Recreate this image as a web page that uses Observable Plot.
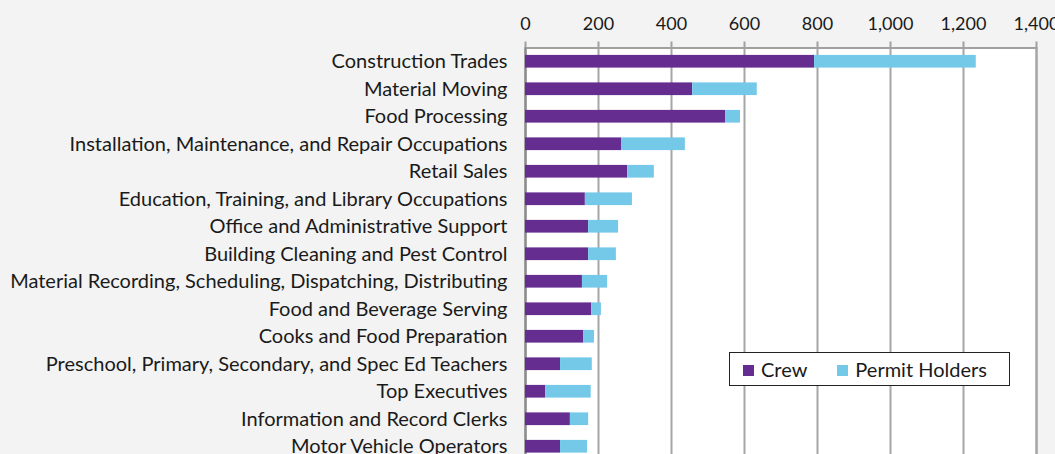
<!DOCTYPE html>
<html>
<head>
<meta charset="utf-8">
<script src="https://cdn.jsdelivr.net/npm/d3@7"></script>
<script src="https://cdn.jsdelivr.net/npm/@observablehq/plot@0.6"></script>
<style>
  html, body { margin: 0; padding: 0; overflow: hidden; background: #f2f3f2; }
  #wrap { position: relative; width: 1055px; height: 454px; font-family: Lato, sans-serif; }
  #legend { position: absolute; left: 729px; top: 352px; width: 279px; height: 32px;
    border: 1px solid #222; background: #fff; display: flex; align-items: center;
    font-size: 20px; color: #1a1a1a; box-sizing: content-box; }
  #legend .item { display: flex; align-items: center; }
  #legend .sw { width: 11px; height: 11px; display: inline-block; margin-right: 7px; margin-top: 2px; }
</style>
</head>
<body>
<div id="wrap"></div>
<script>
const categories = [
  "Construction Trades",
  "Material Moving",
  "Food Processing",
  "Installation, Maintenance, and Repair Occupations",
  "Retail Sales",
  "Education, Training, and Library Occupations",
  "Office and Administrative Support",
  "Building Cleaning and Pest Control",
  "Material Recording, Scheduling, Dispatching, Distributing",
  "Food and Beverage Serving",
  "Cooks and Food Preparation",
  "Preschool, Primary, Secondary, and Spec Ed Teachers",
  "Top Executives",
  "Information and Record Clerks",
  "Motor Vehicle Operators"
];
const crew   = [792, 458, 548, 263, 280, 164, 173, 173, 156, 181, 159, 96, 55, 123, 96];
const permit = [443, 177, 41, 175, 73, 129, 82, 76, 69, 27, 30, 87, 125, 50, 74];
const series = ["Crew", "Permit Holders"];
const colors = ["#662d91", "#74c9e9"];
const xTicks = [0, 200, 400, 600, 800, 1000, 1200, 1400];

const values = [crew, permit];
const rows = series.flatMap((s, si) =>
  categories.map((c, i) => ({category: c, series: s, value: values[si][i]})));

const chart = Plot.plot({
  width: 1055,
  height: 460,
  marginLeft: 525,
  marginRight: 19,
  marginTop: 47.5,
  marginBottom: 0,
  style: {background: "#f2f3f2", fontFamily: "Lato, sans-serif", fontSize: "18px", color: "#1a1a1a", overflow: "visible"},
  x: {domain: [0, 1400], axis: null},
  y: {domain: categories, paddingInner: 0.538, paddingOuter: 0.269, round: false, axis: null},
  color: {domain: series, range: colors},
  marks: [
    Plot.frame({fill: "white", stroke: "#a0a0a0", strokeWidth: 2}),
    Plot.gridX(xTicks, {stroke: "#a6a6a6", strokeWidth: 2, strokeOpacity: 1}),
    Plot.axisX(xTicks, {anchor: "top", label: null, tickSize: 7, tickPadding: 11, stroke: "#a0a0a0", strokeWidth: 2,
      tickFormat: d3.format(","), fontSize: 18, fill: "#1a1a1a"}),
    Plot.ruleX([0], {stroke: "#8c8c8c", strokeWidth: 2}),
    Plot.barX(rows, Plot.stackX({y: "category", x: "value", fill: "series"})),
    Plot.axisY({label: null, tickSize: 0, tickPadding: 18, fontSize: 20, fill: "#1a1a1a"})
  ]
});

const wrap = document.getElementById("wrap");
wrap.appendChild(chart);

const legend = document.createElement("div");
legend.id = "legend";
series.forEach((s, i) => {
  const item = document.createElement("span");
  item.className = "item";
  item.style.marginLeft = i === 0 ? "13px" : "30px";
  const sw = document.createElement("span");
  sw.className = "sw";
  sw.style.background = chart.scale("color").apply(s);
  item.appendChild(sw);
  item.appendChild(document.createTextNode(s));
  legend.appendChild(item);
});
wrap.appendChild(legend);
</script>
</body>
</html>
